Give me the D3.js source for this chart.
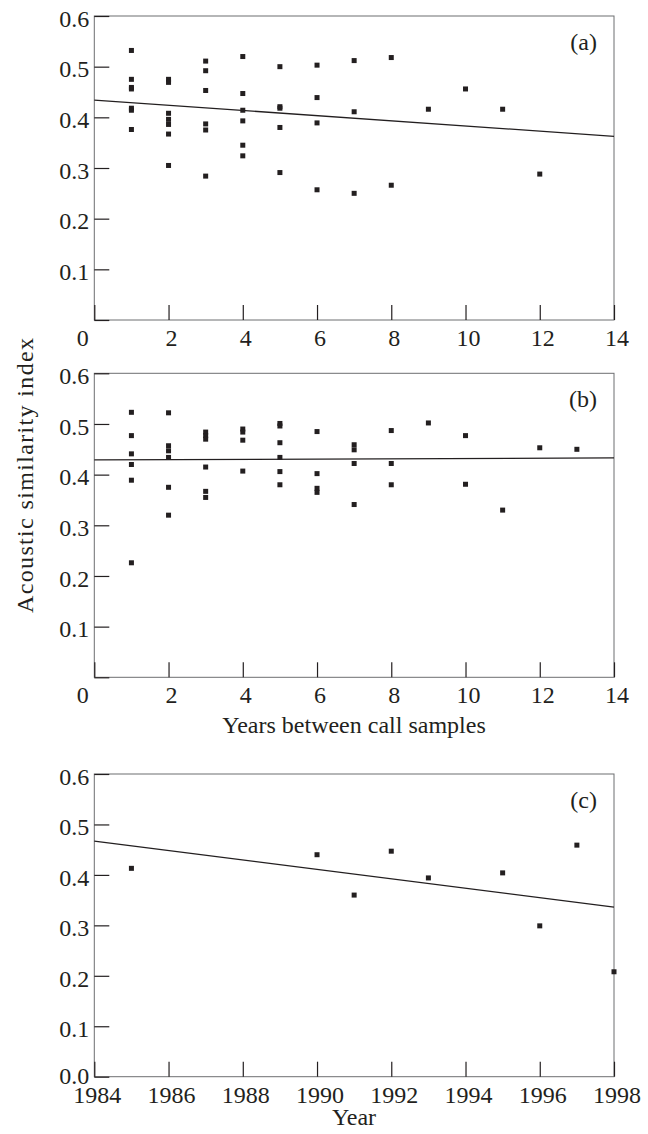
<!DOCTYPE html>
<html>
<head>
<meta charset="utf-8">
<script src="https://cdn.jsdelivr.net/npm/d3@7"></script>
<style>
  body { margin: 0; background: #fff; }
  svg text { font-family: "Liberation Serif", "Times New Roman", serif; fill: #231f20; }
</style>
</head>
<body>
<div id="chart"></div>
<script>
// PANEL (a) -- similarity vs years between call samples
const gapsA = [1, 2, 3, 4, 5, 6, 7, 8, 9, 10, 11, 12];
const simA = [
  [0.532, 0.475, 0.459, 0.456, 0.418, 0.414, 0.376],
  [0.475, 0.469, 0.408, 0.396, 0.386, 0.367, 0.305],
  [0.511, 0.492, 0.453, 0.387, 0.375, 0.284],
  [0.52, 0.447, 0.414, 0.393, 0.345, 0.324],
  [0.5, 0.421, 0.418, 0.38, 0.291],
  [0.503, 0.439, 0.389, 0.257],
  [0.512, 0.411, 0.25],
  [0.518, 0.266],
  [0.416],
  [0.456],
  [0.416],
  [0.288],
];
const fitA = [0.434, 0.3625]; // fitted line at gap 0 and 14

// PANEL (b)
const gapsB = [1, 2, 3, 4, 5, 6, 7, 8, 9, 10, 11, 12, 13];
const simB = [
  [0.523, 0.477, 0.441, 0.42, 0.389, 0.226],
  [0.522, 0.457, 0.447, 0.434, 0.375, 0.32],
  [0.484, 0.477, 0.47, 0.415, 0.367, 0.355],
  [0.49, 0.484, 0.468, 0.407],
  [0.501, 0.496, 0.463, 0.434, 0.406, 0.38],
  [0.485, 0.402, 0.373, 0.365],
  [0.459, 0.449, 0.422, 0.341],
  [0.487, 0.422, 0.38],
  [0.502],
  [0.477, 0.381],
  [0.33],
  [0.453],
  [0.45],
];
const fitB = [0.429, 0.433];

// PANEL (c) -- similarity by year
const yearsC = [1985, 1990, 1991, 1992, 1993, 1995, 1996, 1997, 1998];
const simC = [0.413, 0.44, 0.36, 0.447, 0.394, 0.404, 0.299, 0.459, 0.208];
const fitC = [0.467, 0.336]; // fitted line at 1984 and 1998

const gapTicks = [0, 2, 4, 6, 8, 10, 12, 14];
const yearTicks = [1984, 1986, 1988, 1990, 1992, 1994, 1996, 1998];
const simTicks = [0, 0.1, 0.2, 0.3, 0.4, 0.5, 0.6];

const width = 648,
  height = 1134;
const left = 94.3,
  right = 614;
const ink = "#231f20";
const fontSize = 24;

const svg = d3
  .select("#chart")
  .append("svg")
  .attr("width", width)
  .attr("height", height);

svg.append("rect").attr("width", width).attr("height", height).attr("fill", "#fff");

function flatten(gaps, sims) {
  const pts = [];
  gaps.forEach((g, i) => sims[i].forEach((v) => pts.push({ x: g, y: v })));
  return pts;
}

function drawPanel(opts) {
  const x = d3.scaleLinear().domain(opts.xDomain).range([left, right]);
  const y = d3.scaleLinear().domain([0, 0.6]).range([opts.bottom, opts.top]);

  const g = svg.append("g");

  // frame
  g.append("rect")
    .attr("x", left)
    .attr("y", opts.top)
    .attr("width", right - left)
    .attr("height", opts.bottom - opts.top)
    .attr("fill", "none")
    .attr("stroke", "#6d6e71")
    .attr("stroke-width", 1);

  // y axis, ticks pointing in
  const yAxis = g
    .append("g")
    .attr("transform", `translate(${left},0)`)
    .call(
      d3
        .axisLeft(y)
        .tickValues(simTicks)
        .tickSize(-15)
        .tickPadding(5)
        .tickFormat((d) => (d === 0 && !opts.showZero ? "" : d3.format(".1f")(d)))
    );
  yAxis.select(".domain").remove();
  yAxis.selectAll(".tick line").attr("stroke", ink).attr("stroke-width", 1.2);
  yAxis
    .selectAll(".tick text")
    .attr("font-size", fontSize)
    .attr("dy", (d) => (d === 0 ? "0.3em" : "0.43em"));
  yAxis.attr("font-family", null).attr("font-size", null);

  // x axis
  const xAxis = g
    .append("g")
    .attr("transform", `translate(0,${opts.bottom})`)
    .call(d3.axisBottom(x).tickValues(opts.ticks).tickSize(-15).tickFormat(d3.format("d")));
  xAxis.select(".domain").remove();
  xAxis.selectAll(".tick line").attr("stroke", ink).attr("stroke-width", 1.2);
  xAxis
    .selectAll(".tick text")
    .attr("font-size", fontSize)
    .attr("y", 26)
    .attr("dy", null)
    .attr("x", (d) => (d === 0 ? -12 : 2.5));
  xAxis.attr("font-family", null).attr("font-size", null);

  // fitted line
  const line = d3
    .line()
    .x((d) => x(d.x))
    .y((d) => y(d.y));
  g.append("path")
    .datum([
      { x: opts.xDomain[0], y: opts.fit[0] },
      { x: opts.xDomain[1], y: opts.fit[1] },
    ])
    .attr("fill", "none")
    .attr("stroke", ink)
    .attr("stroke-width", 1.3)
    .attr("d", line);

  // points
  g.selectAll(".pt")
    .data(opts.points)
    .join("rect")
    .attr("class", "pt")
    .attr("x", (d) => x(d.x) - 2.5)
    .attr("y", (d) => y(d.y) - 2.5)
    .attr("width", 5)
    .attr("height", 5)
    .attr("fill", ink);

  // panel letter
  g.append("text")
    .attr("x", 597)
    .attr("y", opts.top + 34)
    .attr("text-anchor", "end")
    .attr("font-size", fontSize)
    .text(opts.label);
}

drawPanel({
  top: 16,
  bottom: 320,
  xDomain: [0, 14],
  ticks: gapTicks,
  points: flatten(gapsA, simA),
  fit: fitA,
  label: "(a)",
});

drawPanel({
  top: 373.3,
  bottom: 677.3,
  xDomain: [0, 14],
  ticks: gapTicks,
  points: flatten(gapsB, simB),
  fit: fitB,
  label: "(b)",
});

drawPanel({
  top: 774,
  bottom: 1076.7,
  xDomain: [1984, 1998],
  ticks: yearTicks,
  points: yearsC.map((yr, i) => ({ x: yr, y: simC[i] })),
  fit: fitC,
  label: "(c)",
  showZero: true,
});

// AXIS TITLES
svg
  .append("text")
  .attr("transform", "translate(33,338) rotate(-90)")
  .attr("text-anchor", "end")
  .attr("font-size", fontSize)
  .attr("textLength", 275)
  .text("Acoustic similarity index");

svg
  .append("text")
  .attr("x", 354)
  .attr("y", 733)
  .attr("text-anchor", "middle")
  .attr("font-size", fontSize)
  .text("Years between call samples");

svg
  .append("text")
  .attr("x", 354)
  .attr("y", 1125)
  .attr("text-anchor", "middle")
  .attr("font-size", fontSize)
  .text("Year");
</script>
</body>
</html>
